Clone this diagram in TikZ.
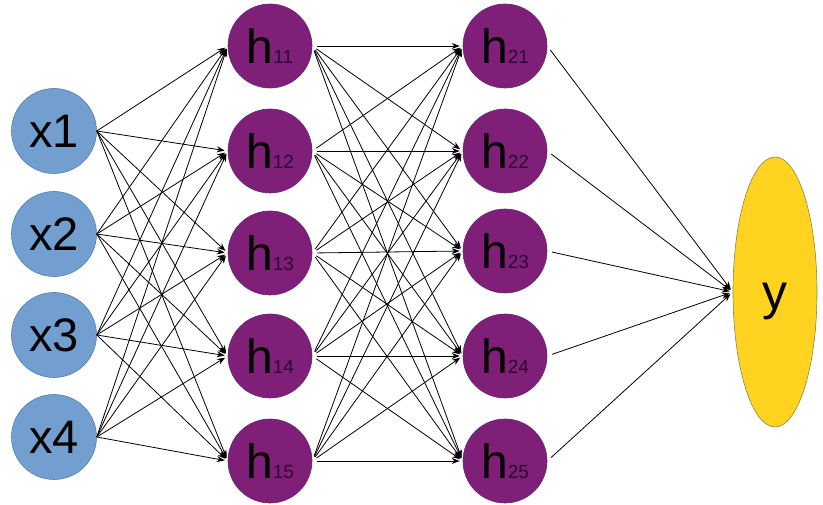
\documentclass[tikz,border=0pt]{standalone}
\usepackage{fontspec}
\setmainfont{Liberation Sans}
\usetikzlibrary{arrows.meta,shapes.geometric}
\definecolor{inblue}{HTML}{729FCF}
\definecolor{inblueline}{HTML}{4F7FB5}
\definecolor{hpurple}{HTML}{7F1F78}
\definecolor{hpurpleline}{HTML}{5E2A7A}
\definecolor{ygold}{HTML}{FFD320}
\definecolor{ygoldline}{HTML}{8C8450}
\definecolor{subcol}{HTML}{2A0A30}
\newcommand{\hlab}[1]{h{\color{subcol}\fontsize{19}{19}\selectfont #1}}
\begin{document}
\begin{tikzpicture}[x=1pt,y=-1pt,
  inode/.style={circle, fill=inblue, draw=inblueline, line width=0.6pt, minimum size=85pt, inner sep=0pt, font=\fontsize{47}{47}\selectfont, text=black},
  hnode/.style={circle, fill=hpurple, draw=hpurpleline, line width=0.6pt, minimum size=84pt, inner sep=0pt, font=\fontsize{48}{48}\selectfont, text=black},
  ynode/.style={ellipse, fill=ygold, draw=ygoldline, line width=0.6pt, minimum width=84pt, minimum height=270pt, inner sep=0pt, font=\fontsize{50}{50}\selectfont, text=black, text height=36pt, text depth=0pt},
  conn/.style={line width=0.8pt, -{Stealth[length=8pt,width=6pt]}, shorten >=3pt},
  hconn/.style={conn, shorten <=5pt}
]
\useasboundingbox (0,0) rectangle (823,505);
\node[inode] (x1) at (54,131) {x1};
\node[inode] (x2) at (54,234) {x2};
\node[inode] (x3) at (54,335) {x3};
\node[inode] (x4) at (54,437) {x4};
\node[hnode] (h11) at (270,46) {\hlab{11}};
\node[hnode] (h12) at (270,151) {\hlab{12}};
\node[hnode] (h13) at (270,253) {\hlab{13}};
\node[hnode] (h14) at (270,356) {\hlab{14}};
\node[hnode] (h15) at (270,461) {\hlab{15}};
\node[hnode] (h21) at (505,46) {\hlab{21}};
\node[hnode] (h22) at (505,151) {\hlab{22}};
\node[hnode] (h23) at (505,251) {\hlab{23}};
\node[hnode] (h24) at (505,356) {\hlab{24}};
\node[hnode] (h25) at (505,461) {\hlab{25}};
\node[ynode] (y) at (775,292) {y};
\foreach \i in {1,...,4}{
  \foreach \j in {1,...,5}{
    \draw[conn] (x\i.east) -- (h1\j.west);
  }
}
\foreach \i in {1,...,5}{
  \foreach \j in {1,...,5}{
    \draw[hconn] (h1\i.east) -- (h2\j.west);
  }
  \draw[hconn] (h2\i.east) -- (y.west);
}
\end{tikzpicture}
\end{document}
